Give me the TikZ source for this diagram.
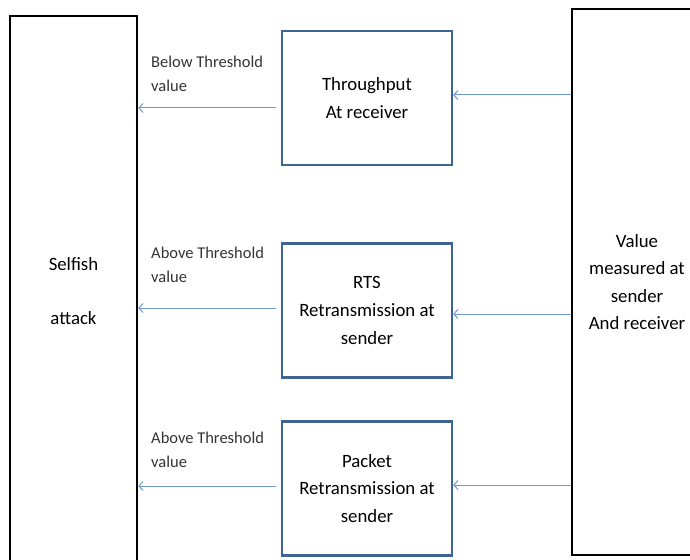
\documentclass[tikz,border=0pt]{standalone}
\usepackage{fontspec}
\setmainfont{Carlito}
\usetikzlibrary{arrows.meta}
\definecolor{boxblue}{HTML}{3D6494}
\definecolor{arrblue}{HTML}{6F98D0}
\definecolor{lbl}{HTML}{333333}
\begin{document}
\begin{tikzpicture}[x=1pt,y=-1pt,
  bigbox/.style={draw=black,line width=2.6pt,minimum width=127pt,align=center,inner sep=0pt,font=\fontsize{18.8}{27.6}\selectfont},
  midbox/.style={draw=boxblue,line width=2.4pt,minimum width=170pt,minimum height=134pt,align=center,inner sep=0pt,font=\fontsize{18.8}{27.6}\selectfont},
  lab/.style={anchor=west,align=left,inner sep=0pt,text=lbl,font=\fontsize{16.5}{24}\selectfont},
  arr/.style={draw=arrblue,line width=1pt,-{Straight Barb[length=4pt,width=9pt]}}]
\useasboundingbox (0,0) rectangle (690,559);
\begin{scope}
\clip (0,0) rectangle (690,559);
\node[bigbox,minimum height=560pt] (sel) at (73.5,296) {};
\node[font=\fontsize{18.8}{27.6}\selectfont,align=center] (selt) at (73.5,291) {Selfish\\[26pt]attack};
\node[bigbox,minimum width=130pt,minimum height=546pt] (val) at (637,282) {Value\\measured at\\sender\\And receiver};
\end{scope}
\node[midbox] (b1) at (367,98) {Throughput\\At receiver};
\node[midbox] (b2) at (367,310.5) {RTS\\Retransmission at\\sender};
\node[midbox] (b3) at (367,488.5) {Packet\\Retransmission at\\sender};
\node[lab] (l1) at (151,74) {Below Threshold\\value};
\node[lab] (l2) at (151,265) {Above Threshold\\value};
\node[lab] (l3) at (151,450) {Above Threshold\\value};
\coordinate (e1) at ([yshift=3pt]b1.east);
\coordinate (e2) at ([yshift=-3.5pt]b2.east);
\coordinate (e3) at ([yshift=3.5pt]b3.east);
\draw[arr] (e1 -| val.west) -- (e1);
\draw[arr] (e2 -| val.west) -- (e2);
\draw[arr] (e3 -| val.west) -- (e3);
\coordinate (s1) at ([xshift=-5pt,yshift=-10pt]b1.west);
\coordinate (s2) at ([xshift=-5pt,yshift=2.5pt]b2.west);
\coordinate (s3) at ([xshift=-5pt,yshift=2.5pt]b3.west);
\draw[arr] (s1) -- (s1 -| sel.east);
\draw[arr] (s2) -- (s2 -| sel.east);
\draw[arr] (s3) -- (s3 -| sel.east);
\end{tikzpicture}
\end{document}
